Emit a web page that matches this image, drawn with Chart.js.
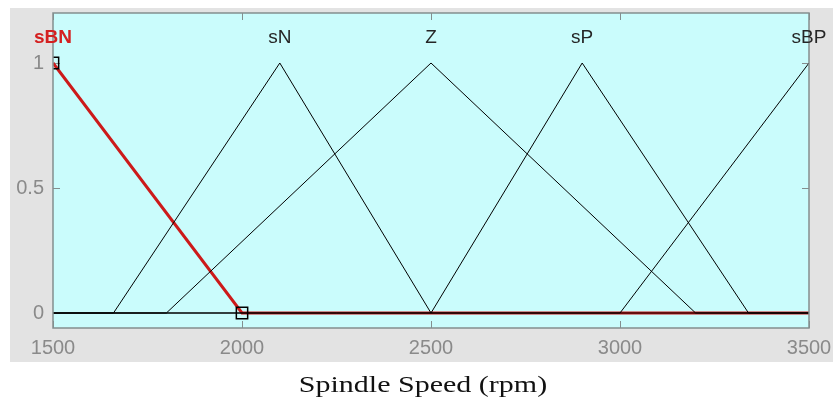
<!DOCTYPE html>
<html><head><meta charset="utf-8">
<script src="https://cdn.jsdelivr.net/npm/chart.js@4.4.1/dist/chart.umd.min.js"></script>
<style>html,body{margin:0;padding:0;background:#fff;}canvas{display:block;}</style>
</head><body><canvas id="c" width="833" height="409"></canvas>
<script>
// ---- data ----
const xTicks = [1500, 2000, 2500, 3000, 3500];
const yTicks = [0, 0.5, 1];
const mfNames = ['sBN', 'sN', 'Z', 'sP', 'sBP'];
const mfPeaks = [1500, 2100, 2500, 2900, 3500];
const mfLabelLevel = 1.1;
const sBN_x = [1500, 2000, 3500];
const sBN_y = [1, 0, 0];
const sN_x = [1500, 1660, 2100, 2500, 3500];
const sN_y = [0, 0, 1, 0, 0];
const Z_x = [1500, 1800, 2500, 3200, 3500];
const Z_y = [0, 0, 1, 0, 0];
const sP_x = [1500, 2500, 2900, 3340, 3500];
const sP_y = [0, 0, 1, 0, 0];
const sBP_x = [1500, 3000, 3500];
const sBP_y = [0, 0, 1];
const xTitle = 'Spindle Speed (rpm)';

const pts = (xs, ys) => xs.map((x, i) => ({x: x, y: ys[i]}));

const GRAY_BG = '#e3e3e3';
const PLOT_BG = '#cafcfc';
const AXIS_COL = '#848e8e';
const TICK_TXT = '#8a8a8a';

const bgPlugin = {
  id: 'bg',
  beforeDraw(chart) {
    const ctx = chart.ctx, a = chart.chartArea;
    ctx.save();
    ctx.fillStyle = '#ffffff';
    ctx.fillRect(0, 0, chart.width, chart.height);
    ctx.fillStyle = GRAY_BG;
    ctx.fillRect(10, 8, chart.width - 10, 354);
    ctx.fillStyle = PLOT_BG;
    ctx.fillRect(a.left, a.top, a.right - a.left, a.bottom - a.top);
    ctx.restore();
  },
  beforeDatasetsDraw(chart) {
    const ctx = chart.ctx, a = chart.chartArea;
    const xs = chart.scales.x, ys = chart.scales.y;
    ctx.save();
    ctx.strokeStyle = AXIS_COL;
    ctx.lineWidth = 1;
    ctx.beginPath();
    xTicks.forEach(v => {
      const px = Math.round(xs.getPixelForValue(v)) + 0.5;
      ctx.moveTo(px, a.bottom); ctx.lineTo(px, a.bottom - 7);
      ctx.moveTo(px, a.top); ctx.lineTo(px, a.top + 7);
    });
    yTicks.forEach(v => {
      const py = Math.round(ys.getPixelForValue(v)) + 0.5;
      ctx.moveTo(a.left, py); ctx.lineTo(a.left + 7, py);
      ctx.moveTo(a.right, py); ctx.lineTo(a.right - 7, py);
    });
    ctx.stroke();
    ctx.restore();
  },
  afterDatasetsDraw(chart) {
    const ctx = chart.ctx, a = chart.chartArea;
    const xs = chart.scales.x, ys = chart.scales.y;
    ctx.save();
    ctx.strokeStyle = AXIS_COL;
    ctx.lineWidth = 1.5;
    ctx.strokeRect(a.left, a.top, a.right - a.left, a.bottom - a.top);
    // membership function labels
    ctx.textAlign = 'center';
    ctx.textBaseline = 'middle';
    mfNames.forEach((n, i) => {
      const px = xs.getPixelForValue(mfPeaks[i]);
      const py = ys.getPixelForValue(mfLabelLevel);
      if (i === 0) { ctx.fillStyle = '#d42020'; ctx.font = 'bold 19px "Liberation Sans", Arial, sans-serif'; }
      else { ctx.fillStyle = '#262626'; ctx.font = '19px "Liberation Sans", Arial, sans-serif'; }
      ctx.fillText(n, px, py);
    });
    // axis title
    ctx.fillStyle = '#111';
    ctx.font = '24px "Liberation Serif", "Times New Roman", serif';
    ctx.textAlign = 'center';
    ctx.textBaseline = 'alphabetic';
    ctx.translate(423, 392);
    ctx.scale(1.25, 1);
    ctx.fillText(xTitle, 0, 0);
    ctx.restore();
  }
};

const blackLine = (xs, ys) => ({
  data: pts(xs, ys), showLine: true, borderColor: '#000', borderWidth: 1,
  pointRadius: 0, tension: 0, fill: false, order: 0
});

new Chart(document.getElementById('c'), {
  type: 'scatter',
  data: {
    datasets: [
      {
        data: pts(sBN_x, sBN_y), showLine: true, borderColor: '#cc1a1a', borderWidth: 3,
        pointStyle: 'rect', pointRadius: [8, 8, 0], pointBorderColor: '#000',
        pointBackgroundColor: 'rgba(0,0,0,0)', pointBorderWidth: 1.5,
        tension: 0, fill: false, order: 10
      },
      blackLine(sN_x, sN_y),
      blackLine(Z_x, Z_y),
      blackLine(sP_x, sP_y),
      blackLine(sBP_x, sBP_y)
    ]
  },
  options: {
    responsive: false,
    animation: false,
    events: [],
    layout: {padding: {top: 13, right: 24, left: 0, bottom: 0}},
    plugins: {legend: {display: false}, tooltip: {enabled: false}},
    scales: {
      x: {
        type: 'linear', min: 1500, max: 3500,
        afterBuildTicks: s => { s.ticks = xTicks.map(v => ({value: v})); },
        afterFit: s => { s.height = 81; s.paddingLeft = 0; s.paddingRight = 0; },
        grid: {display: false, drawTicks: false},
        border: {display: false},
        ticks: {color: TICK_TXT, font: {size: 20, family: '"Liberation Sans", Arial, sans-serif'},
                padding: 8, maxRotation: 0, autoSkip: false, callback: v => String(v)}
      },
      y: {
        type: 'linear', min: -0.06, max: 1.2,
        afterBuildTicks: s => { s.ticks = yTicks.map(v => ({value: v})); },
        afterFit: s => { s.width = 53; s.paddingTop = 0; s.paddingBottom = 0; },
        grid: {display: false, drawTicks: false},
        border: {display: false},
        ticks: {color: TICK_TXT, font: {size: 20, family: '"Liberation Sans", Arial, sans-serif'},
                padding: 9, autoSkip: false, callback: v => String(v)}
      }
    }
  },
  plugins: [bgPlugin]
});
</script>
</body></html>
